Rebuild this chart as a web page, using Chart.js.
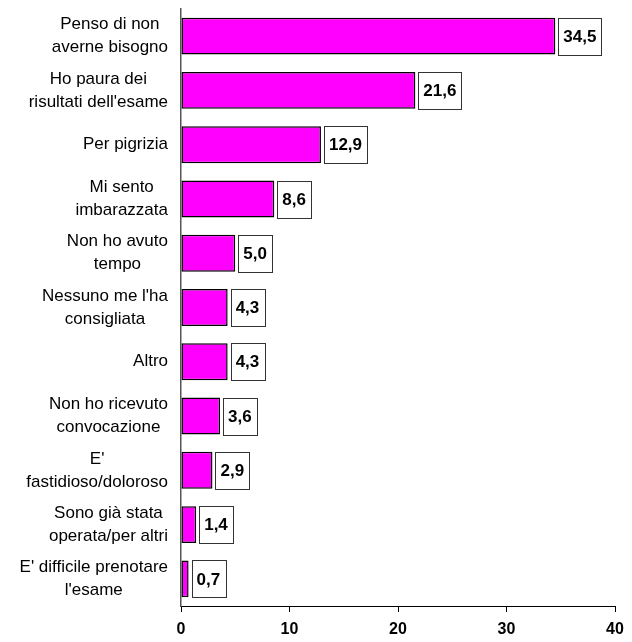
<!DOCTYPE html>
<html>
<head>
<meta charset="utf-8">
<script src="https://cdn.jsdelivr.net/npm/chart.js@4"></script>
<style>
  body { margin: 0; background: #fff; }
  canvas { display: block; }
</style>
</head>
<body>
<canvas id="chart" width="632" height="642"></canvas>
<script>
const categories = [
    ["Penso di non", "averne bisogno"],
    ["Ho paura dei", "risultati dell'esame"],
    ["Per pigrizia"],
    ["Mi sento", "imbarazzata"],
    ["Non ho avuto", "tempo"],
    ["Nessuno me l'ha", "consigliata"],
    ["Altro"],
    ["Non ho ricevuto", "convocazione"],
    ["E'", "fastidioso/doloroso"],
    ["Sono già stata", "operata/per altri"],
    ["E' difficile prenotare", "l'esame"],
];
const values = [34.5, 21.6, 12.9, 8.6, 5.0, 4.3, 4.3, 3.6, 2.9, 1.4, 0.7];
const xMin = 0;
const xMax = 40;
const xStep = 10;

const fontFamily = "'Liberation Sans', Arial, sans-serif";

// value boxes to the right of each bar
const valueBoxes = {
    id: "valueBoxes",
    afterDatasetsDraw(chart) {
        const ctx = chart.ctx;
        const meta = chart.getDatasetMeta(0);
        ctx.save();
        ctx.font = "bold 17px " + fontFamily;
        meta.data.forEach((bar, i) => {
            const txt = values[i].toFixed(1).replace(".", ",");
            const w = ctx.measureText(txt).width + 10;
            const h = bar.height;
            const x = bar.x + 3;
            const y = bar.y - h / 2;
            ctx.fillStyle = "#fff";
            ctx.fillRect(x, y, w, h);
            ctx.strokeStyle = "#333";
            ctx.lineWidth = 1;
            ctx.strokeRect(Math.round(x) + 0.5, Math.round(y) + 0.5, Math.round(w), Math.round(h));
            ctx.fillStyle = "#000";
            ctx.textAlign = "center";
            ctx.textBaseline = "middle";
            ctx.fillText(txt, x + w / 2, bar.y + 1);
        });
        ctx.restore();
    },
};

// category labels: block right aligned, lines centred inside the block
const categoryLabels = {
    id: "categoryLabels",
    afterDraw(chart) {
        const ctx = chart.ctx;
        const yScale = chart.scales.y;
        const lineHeight = 23;
        ctx.save();
        ctx.font = "17px " + fontFamily;
        ctx.fillStyle = "#000";
        ctx.textAlign = "center";
        ctx.textBaseline = "middle";
        categories.forEach((lines, i) => {
            const y = yScale.getPixelForValue(i);
            const maxW = Math.max(...lines.map((l) => ctx.measureText(l).width));
            const cx = yScale.right - 13 - maxW / 2;
            const y0 = y - ((lines.length - 1) * lineHeight) / 2;
            lines.forEach((l, j) => ctx.fillText(l, cx, y0 + j * lineHeight));
        });
        ctx.restore();
    },
};

const data = {
    labels: categories,
    datasets: [
        {
            data: values,
            backgroundColor: "#ff00ff",
            borderColor: "#000",
            borderWidth: 1.5,
            borderSkipped: false,
            barPercentage: 0.68,
            categoryPercentage: 1,
        },
    ],
};

const config = {
    type: "bar",
    data: data,
    options: {
        indexAxis: "y",
        responsive: false,
        animation: false,
        layout: { padding: { top: 9, right: 17, bottom: 0, left: 0 } },
        plugins: {
            legend: { display: false },
            tooltip: { enabled: false },
        },
        scales: {
            x: {
                min: xMin,
                max: xMax,
                ticks: {
                    stepSize: xStep,
                    color: "#000",
                    padding: 8,
                    font: { family: fontFamily, size: 16, weight: "bold" },
                },
                grid: {
                    drawOnChartArea: false,
                    drawTicks: true,
                    tickLength: 6,
                    color: "#000",
                },
                border: { display: true, color: "#000", width: 1 },
                afterFit: (scale) => { scale.height = 36; },
            },
            y: {
                ticks: { display: false },
                grid: { display: false },
                border: { display: true, color: "#555", width: 1.5 },
                afterFit: (scale) => { scale.width = 181; },
            },
        },
    },
    plugins: [valueBoxes, categoryLabels],
};

const myChart = new Chart(document.getElementById("chart"), config);
</script>
</body>
</html>
